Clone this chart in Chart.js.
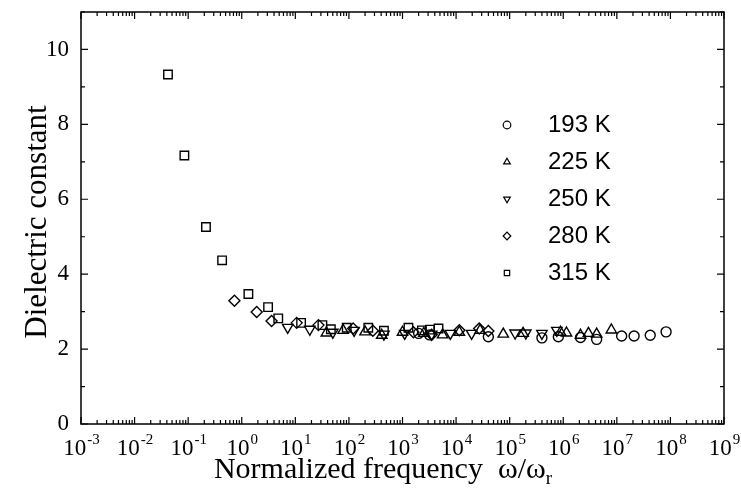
<!DOCTYPE html>
<html>
<head>
<meta charset="utf-8">
<script src="https://cdn.jsdelivr.net/npm/chart.js@4.4.1/dist/chart.umd.min.js"></script>
<style>
  html, body { margin: 0; padding: 0; background: #fff; }
  #wrap { width: 741px; height: 493px; }
</style>
</head>
<body>
<div id="wrap"><canvas id="chart"></canvas></div>
<script>
// --- DATA (x = normalized frequency, y = dielectric constant) ---
const x193 = [2000, 3200, 40000, 400000, 810000, 2100000, 4200000, 12300000, 21000000, 42000000, 83000000];
const y193 = [2.42, 2.38, 2.33, 2.30, 2.33, 2.31, 2.26, 2.35, 2.35, 2.37, 2.46];

const x225 = [38, 78, 200, 410, 1000, 2500, 5600, 11500, 28000, 76000, 178000, 890000, 1150000, 2100000, 2950000, 4200000, 7900000];
const y225 = [2.43, 2.50, 2.46, 2.37, 2.45, 2.42, 2.38, 2.45, 2.50, 2.40, 2.42, 2.45, 2.43, 2.37, 2.42, 2.40, 2.51];

const x250 = [7.2, 18.6, 50, 125, 450, 1100, 3500, 7800, 19500, 126000, 200000, 400000, 760000];
const y250 = [2.58, 2.53, 2.45, 2.50, 2.40, 2.42, 2.40, 2.42, 2.42, 2.43, 2.43, 2.42, 2.50];

const x280 = [0.73, 1.9, 3.6, 10.6, 27, 120, 280, 1600, 3500, 11500, 27000, 40000];
const y280 = [3.29, 2.99, 2.75, 2.70, 2.64, 2.55, 2.49, 2.45, 2.38, 2.50, 2.55, 2.48];

const x315 = [0.042, 0.085, 0.215, 0.43, 1.33, 3.1, 4.8, 12.8, 32, 46, 91, 230, 450, 1290, 2300, 3240, 4700];
const y315 = [9.33, 7.17, 5.26, 4.37, 3.47, 3.12, 2.82, 2.70, 2.64, 2.53, 2.57, 2.57, 2.49, 2.57, 2.50, 2.52, 2.55];

const seriesLabels = ["193 K", "225 K", "250 K", "280 K", "315 K"];
const xTickExponents = [-3, -2, -1, 0, 1, 2, 3, 4, 5, 6, 7, 8, 9];
const yTickValues = [0, 2, 4, 6, 8, 10];

// --- STYLE ---
const SERIF = "'Liberation Serif', 'Times New Roman', serif";
const SANS = "'Liberation Sans', Arial, sans-serif";
const markers = [
  { style: "circle", rotation: 0, radius: 5 },
  { style: "triangle", rotation: 0, radius: 6 },
  { style: "triangle", rotation: 180, radius: 6 },
  { style: "rectRot", rotation: 0, radius: 5.5 },
  { style: "rect", rotation: 0, radius: 6 }
];

function pts(xs, ys) {
  return xs.map((x, i) => ({ x: x, y: ys[i] }));
}

const allX = [x193, x225, x250, x280, x315];
const allY = [y193, y225, y250, y280, y315];

const datasets = seriesLabels.map((label, i) => ({
  label: label,
  data: pts(allX[i], allY[i]),
  showLine: false,
  pointStyle: markers[i].style,
  rotation: markers[i].rotation,
  pointRadius: markers[i].radius,
  pointHoverRadius: markers[i].radius,
  borderColor: "#000",
  backgroundColor: "rgba(0,0,0,0)",
  pointBorderWidth: 1.4
}));

// --- FRAME, TICKS, LABELS, LEGEND ---
const decorPlugin = {
  id: "decor",
  afterDraw(chart) {
    const ctx = chart.ctx;
    const a = chart.chartArea;
    const xs = chart.scales.x;
    const ys = chart.scales.y;
    ctx.save();
    ctx.strokeStyle = "#000";
    ctx.lineWidth = 1.5;
    ctx.strokeRect(a.left, a.top, a.right - a.left, a.bottom - a.top);

    // x ticks (log, inward, top and bottom)
    ctx.lineWidth = 1.2;
    ctx.beginPath();
    for (let e = -3; e <= 9; e++) {
      for (let m = 1; m <= 9; m++) {
        if (e === 9 && m > 1) break;
        const px = xs.getPixelForValue(m * Math.pow(10, e));
        const len = m === 1 ? 7 : 4;
        ctx.moveTo(px, a.bottom); ctx.lineTo(px, a.bottom - len);
        ctx.moveTo(px, a.top); ctx.lineTo(px, a.top + len);
      }
    }
    // y ticks (inward, left and right)
    for (let v = 0; v <= 11; v++) {
      const py = ys.getPixelForValue(v);
      const len = v % 2 === 0 ? 7 : 4;
      ctx.moveTo(a.left, py); ctx.lineTo(a.left + len, py);
      ctx.moveTo(a.right, py); ctx.lineTo(a.right - len, py);
    }
    ctx.stroke();

    ctx.fillStyle = "#000";

    // y tick labels
    ctx.font = "23px " + SERIF;
    ctx.textAlign = "right";
    ctx.textBaseline = "middle";
    yTickValues.forEach(v => {
      ctx.fillText(String(v), a.left - 12, ys.getPixelForValue(v));
    });

    // x tick labels 10^n
    ctx.textBaseline = "alphabetic";
    ctx.textAlign = "left";
    const baseFont = "23px " + SERIF;
    const supFont = "15px " + SERIF;
    xTickExponents.forEach(e => {
      const px = xs.getPixelForValue(Math.pow(10, e));
      ctx.font = baseFont;
      const w1 = ctx.measureText("10").width;
      ctx.font = supFont;
      const sup = String(e);
      const w2 = ctx.measureText(sup).width;
      const x0 = px - (w1 + w2) / 2;
      ctx.font = baseFont;
      ctx.fillText("10", x0, 455);
      ctx.font = supFont;
      ctx.fillText(sup, x0 + w1 + 1, 444);
    });

    // x title with subscript
    const tFont = "30px " + SERIF;
    const tSub = "19px " + SERIF;
    const part1 = "Normalized frequency  \u03c9/\u03c9";
    ctx.font = tFont;
    const tw1 = ctx.measureText(part1).width;
    ctx.font = tSub;
    const tw2 = ctx.measureText("r").width;
    const tx = 383 - (tw1 + tw2) / 2;
    ctx.font = tFont;
    ctx.fillText(part1, tx, 478);
    ctx.font = tSub;
    ctx.fillText("r", tx + tw1, 484);

    // y title
    ctx.save();
    ctx.translate(38, 222);
    ctx.rotate(-Math.PI / 2);
    ctx.textAlign = "center";
    ctx.textBaseline = "middle";
    ctx.font = "31px " + SERIF;
    ctx.fillText("Dielectric constant", 0, 0);
    ctx.restore();

    // legend
    const legendY = [125, 162, 199, 236, 273];
    ctx.textAlign = "left";
    ctx.textBaseline = "middle";
    seriesLabels.forEach((label, i) => {
      ctx.lineWidth = 1.2;
      ctx.fillStyle = "#fff";
      Chart.helpers.drawPoint(ctx, {
        pointStyle: markers[i].style,
        rotation: markers[i].rotation,
        radius: 3.8,
        borderWidth: 1.2
      }, 507, legendY[i]);
      ctx.fillStyle = "#000";
      ctx.font = "24px " + SANS;
      ctx.fillText(label, 548, legendY[i]);
    });
    ctx.restore();
  }
};

new Chart(document.getElementById("chart"), {
  type: "scatter",
  data: { datasets: datasets },
  options: {
    responsive: true,
    maintainAspectRatio: false,
    animation: false,
    layout: { padding: { top: 12, right: 17, left: 0, bottom: 0 } },
    plugins: {
      legend: { display: false },
      tooltip: { enabled: false }
    },
    scales: {
      x: {
        type: "logarithmic",
        min: 1e-3,
        max: 1e9,
        grid: { display: false },
        border: { display: false },
        ticks: { display: false },
        afterFit: s => { s.height = 69; }
      },
      y: {
        type: "linear",
        min: 0,
        max: 11,
        grid: { display: false },
        border: { display: false },
        ticks: { display: false },
        afterFit: s => { s.width = 81; }
      }
    }
  },
  plugins: [decorPlugin]
});
</script>
</body>
</html>
